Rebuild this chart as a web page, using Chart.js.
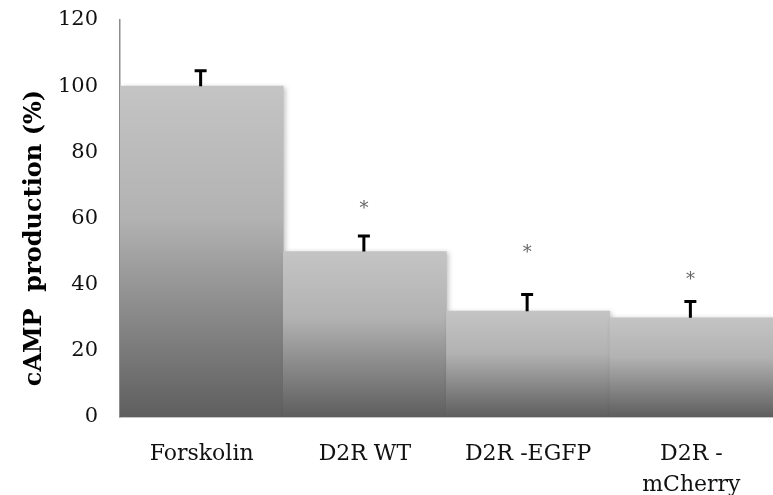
<!DOCTYPE html>
<html>
<head>
<meta charset="utf-8">
<script src="https://cdn.jsdelivr.net/npm/chart.js@4"></script>
<style>
  html, body { margin: 0; padding: 0; background: #fff; }
  #wrap { width: 773px; height: 495px; }
</style>
</head>
<body>
<div id="wrap"><canvas id="camp"></canvas></div>
<script>
// data
const groups = [['Forskolin'], ['D2R WT'], ['D2R -EGFP'], ['D2R -', 'mCherry']];
const camp = [100, 50, 32, 30];
const errTop = [105, 55, 37.3, 35.2];
const stars = [null, 63.5, 50, 42];
const yTicks = [0, 20, 40, 60, 80, 100, 120];
const yTitle = 'cAMP  production (%)';

// vertical gradient per bar, light on top, dark at the base
function barFill(context) {
    const chart = context.chart;
    const y = chart.scales.y;
    if (!chart.chartArea || !y) return '#999';
    const top = y.getPixelForValue(camp[context.dataIndex]);
    const bottom = y.getPixelForValue(0);
    const g = chart.ctx.createLinearGradient(0, top, 0, bottom);
    g.addColorStop(0, '#c4c4c4');
    g.addColorStop(0.4, '#b2b2b2');
    g.addColorStop(1, '#5e5e5e');
    return g;
}

// soft shadow on the bars
const barShadow = {
    id: 'barShadow',
    beforeDatasetsDraw(chart) {
        const ctx = chart.ctx;
        ctx.save();
        ctx.shadowColor = 'rgba(0,0,0,0.25)';
        ctx.shadowBlur = 5;
        ctx.shadowOffsetX = 2;
        ctx.shadowOffsetY = 1;
    },
    afterDatasetsDraw(chart) {
        chart.ctx.restore();
    }
};

// upper error bars, asterisks and the y title (sits a bit below centre)
const errorMarks = {
    id: 'errorMarks',
    afterDatasetsDraw(chart) {
        const ctx = chart.ctx;
        const x = chart.scales.x;
        const y = chart.scales.y;
        ctx.save();
        ctx.strokeStyle = '#000';
        ctx.lineWidth = 3;
        camp.forEach((v, i) => {
            const cx = x.getPixelForValue(i) - 1;
            const y0 = y.getPixelForValue(v);
            const y1 = y.getPixelForValue(errTop[i]);
            ctx.beginPath();
            ctx.moveTo(cx, y0);
            ctx.lineTo(cx, y1);
            ctx.moveTo(cx - 6, y1 + 1);
            ctx.lineTo(cx + 6, y1 + 1);
            ctx.stroke();
            if (stars[i] !== null) {
                ctx.fillStyle = '#666';
                ctx.font = '18px "DejaVu Serif"';
                ctx.textAlign = 'center';
                ctx.textBaseline = 'middle';
                ctx.fillText('*', cx, y.getPixelForValue(stars[i]) + 2);
            }
        });
        ctx.translate(35, 238);
        ctx.rotate(-Math.PI / 2);
        ctx.fillStyle = '#000';
        ctx.font = 'bold 24px "DejaVu Serif"';
        ctx.textAlign = 'center';
        ctx.textBaseline = 'middle';
        ctx.fillText(yTitle, 0, 0);
        ctx.restore();
    }
};

const config = {
    type: 'bar',
    data: {
        labels: groups,
        datasets: [{
            label: 'cAMP',
            data: camp,
            backgroundColor: barFill,
            borderWidth: 0,
            barPercentage: 1,
            categoryPercentage: 1
        }]
    },
    options: {
        responsive: true,
        maintainAspectRatio: false,
        animation: false,
        layout: { padding: { top: 20, right: 0, left: 0, bottom: 0 } },
        plugins: {
            legend: { display: false },
            tooltip: { enabled: false }
        },
        scales: {
            x: {
                grid: { display: false, drawTicks: false },
                border: { color: '#8c8c8c', width: 1.5 },
                ticks: {
                    color: '#111',
                    padding: 22,
                    font: { family: 'DejaVu Serif', size: 22, lineHeight: 1.4 },
                    maxRotation: 0
                },
                afterFit: s => { s.height = 78; s.paddingLeft = 0; s.paddingRight = 0; }
            },
            y: {
                min: 0,
                max: 120,
                afterBuildTicks: s => { s.ticks = yTicks.map(v => ({ value: v })); },
                grid: { display: false, drawOnChartArea: false, drawTicks: true, tickLength: 8, color: '#8c8c8c', lineWidth: 1.5 },
                border: { color: '#8c8c8c', width: 1.5 },
                ticks: {
                    color: '#111',
                    padding: 14,
                    font: { family: 'DejaVu Serif', size: 21 }
                },
                afterFit: s => { s.width = 120; s.paddingTop = 0; s.paddingBottom = 0; }
            }
        }
    },
    plugins: [barShadow, errorMarks]
};

new Chart(document.getElementById('camp'), config);
</script>
</body>
</html>
